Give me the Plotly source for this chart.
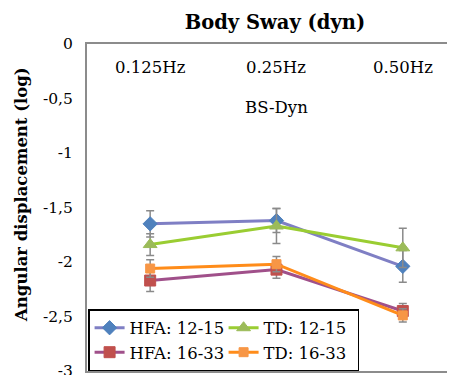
import plotly.graph_objects as go

categories = ["0.125Hz", "0.25Hz", "0.50Hz"]
series_names = ["HFA: 12-15", "TD: 12-15", "HFA: 16-33", "TD: 16-33"]
hfa_12_15 = [-1.65, -1.62, -2.04]
td_12_15 = [-1.84, -1.67, -1.87]
hfa_16_33 = [-2.17, -2.07, -2.45]
td_16_33 = [-2.06, -2.02, -2.49]
err_hfa_12_15 = [0.12, 0.11, 0.145]
err_td_12_15 = [0.10, 0.16, 0.18]
err_hfa_16_33 = [0.10, 0.08, 0.07]
err_td_16_33 = [0.08, 0.07, 0.06]
y_tickvals = [0, -0.5, -1, -1.5, -2, -2.5, -3]
y_ticktext = ["0", "-0,5", "-1", "-1,5", "-2", "-2,5", "-3"]
x_axis_title = "BS-Dyn"
y_axis_title = "Angular displacement (log)"
chart_title = "Body Sway (dyn)"

styles = [
    dict(line="#7f7fc4", marker="#4f81bd", symbol="diamond", size=11),
    dict(line="#9acd32", marker="#9bbb59", symbol="triangle-up", size=12),
    dict(line="#a0508a", marker="#c0504d", symbol="square", size=11),
    dict(line="#ff8c1a", marker="#f79646", symbol="square", size=9),
]
values = [hfa_12_15, td_12_15, hfa_16_33, td_16_33]
errors = [err_hfa_12_15, err_td_12_15, err_hfa_16_33, err_td_16_33]

fig = go.Figure()
for name, vals, errs, st in zip(series_names, values, errors, styles):
    fig.add_trace(go.Scatter(
        x=categories, y=vals, name=name, mode="lines+markers",
        line=dict(color=st["line"], width=3),
        marker=dict(color=st["marker"], symbol=st["symbol"], size=st["size"],
                    line=dict(color=st["marker"], width=1)),
        error_y=dict(type="data", array=errs, visible=True, color="#8a8a8a",
                     thickness=1.5, width=4),
    ))

serif = "DejaVu Serif"
annotations = [dict(text=c, x=c, y=-0.218, xref="x", yref="y", showarrow=False,
                    font=dict(family=serif, size=16.5, color="black"))
               for c in categories]
annotations.append(dict(text=x_axis_title, x=categories[1], y=-0.582, xref="x", yref="y",
                        showarrow=False, font=dict(family=serif, size=16.5, color="black")))
annotations.append(dict(text="<b>" + y_axis_title + "</b>", x=-0.18, y=0.539,
                        xref="paper", yref="paper", xanchor="center", yanchor="middle",
                        textangle=-90, showarrow=False,
                        font=dict(family=serif, size=16.5, color="black")))

fig.update_layout(
    width=439, height=367,
    margin=dict(l=79, r=0, t=36, b=4, autoexpand=False),
    paper_bgcolor="white", plot_bgcolor="white",
    title=dict(text="<b>" + chart_title + "</b>", x=0.608, xanchor="center", y=0.962, yanchor="middle",
               font=dict(family=serif, size=19.5, color="black"), automargin=False),
    xaxis=dict(type="category", range=[-0.5, 2.35], showticklabels=False, automargin=False,
               showgrid=False, zeroline=False, ticks="",
               showline=True, linecolor="#8c8c8c", linewidth=2, mirror=True),
    yaxis=dict(range=[-3, 0], tickvals=y_tickvals, ticktext=y_ticktext, automargin=False,
               showgrid=False, zeroline=False, ticks="", ticklabelstandoff=9,
               ticklabeloverflow="allow",
               tickfont=dict(family=serif, size=15.5, color="black"),
               showline=True, linecolor="#8c8c8c", linewidth=2, mirror=True),
    legend=dict(orientation="h", x=0.003, xanchor="left", y=0.0, yanchor="bottom",
                bgcolor="white", bordercolor="black", borderwidth=1.5,
                entrywidth=89, tracegroupgap=0, itemwidth=30,
                font=dict(family=serif, size=16.5, color="black")),
    annotations=annotations,
)

fig.write_html("out.html")
